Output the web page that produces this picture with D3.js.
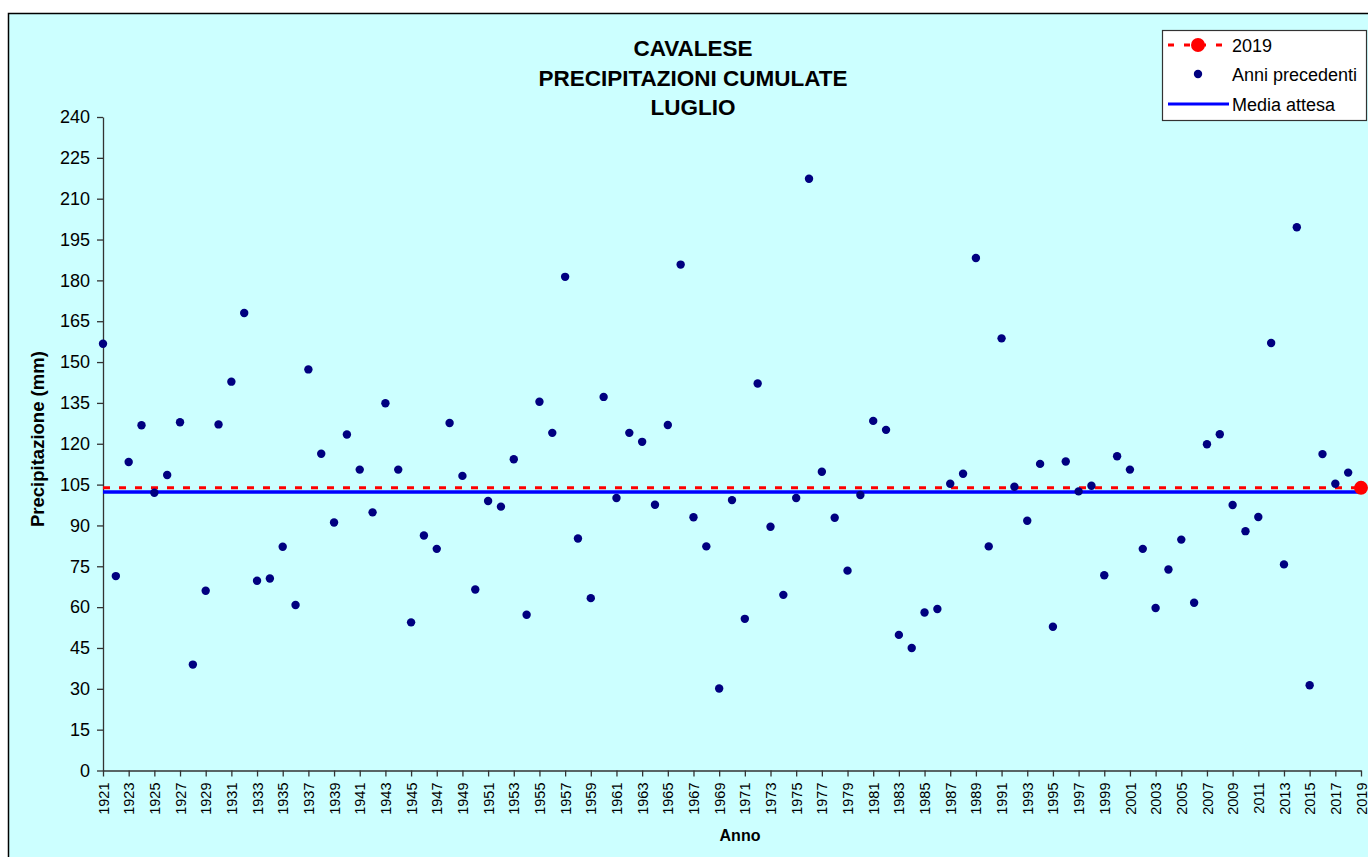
<!DOCTYPE html>
<html>
<head>
<meta charset="utf-8">
<script src="https://cdn.jsdelivr.net/npm/d3@7"></script>
<style>
  body { margin: 0; background: #fff; }
  text { font-family: "Liberation Sans", Arial, sans-serif; }
</style>
</head>
<body>
<div id="chart"></div>
<script>
// precipitazioni cumulate di luglio, Cavalese
const firstYear = 1921;
const pastValues = [
  156.7, 71.4, 113.3, 126.8, 102.0, 108.5, 127.9, 38.9, 66.0, 127.1,   // 1921-1930
  142.8, 168.0, 69.7, 70.5, 82.2, 60.8, 147.3, 116.3, 91.1, 123.4,      // 1931-1940
  110.5, 94.8, 134.9, 110.5, 54.4, 86.3, 81.4, 127.6, 108.2, 66.5,      // 1941-1950
  99.0, 96.9, 114.3, 57.2, 135.4, 124.0, 181.3, 85.2, 63.3, 137.2,      // 1951-1960
  100.1, 124.0, 120.7, 97.6, 126.9, 185.8, 93.0, 82.3, 30.1, 99.3,      // 1961-1970
  55.7, 142.1, 89.5, 64.5, 100.1, 217.3, 109.7, 92.8, 73.4, 101.2,      // 1971-1980
  128.4, 125.1, 49.8, 45.0, 58.0, 59.3, 105.3, 109.0, 188.2, 82.3,      // 1981-1990
  158.7, 104.2, 91.7, 112.6, 52.8, 113.5, 102.5, 104.6, 71.7, 115.4,    // 1991-2000
  110.5, 81.4, 59.7, 73.8, 84.8, 61.6, 119.8, 123.5, 97.5, 87.9,        // 2001-2010
  93.1, 157.0, 75.7, 199.5, 31.3, 116.2, 105.3, 109.4                   // 2011-2018
];
const currentYear = 2019;
const currentValue = 103.8;
const expectedMean = 102.3;
const yTicks = d3.range(0, 241, 15);
const xTicks = d3.range(1921, 2020, 2);
const titleLines = ["CAVALESE", "PRECIPITAZIONI CUMULATE", "LUGLIO"];
const legendLabels = ["2019", "Anni precedenti", "Media attesa"];

const past = pastValues.map((v, i) => ({ year: firstYear + i, value: v }));

const W = 1368, H = 857;
const svg = d3.select("#chart").append("svg")
  .attr("width", W).attr("height", H);

// cornice
svg.append("rect")
  .attr("x", 8.5).attr("y", 13.5)
  .attr("width", W + 20).attr("height", H + 20)
  .style("fill", "#CCFFFF")
  .style("stroke", "#000")
  .style("stroke-width", 1.5);

const x = d3.scaleLinear().domain([1921, 2019]).range([103, 1361]);
const y = d3.scaleLinear().domain([0, 240]).range([770.5, 117]);

// asse y
const yAxis = svg.append("g")
  .attr("transform", "translate(103,0)")
  .call(d3.axisLeft(y).tickValues(yTicks).tickSize(6).tickPadding(7).tickSizeOuter(0));
yAxis.selectAll("text").style("font-size", "18px").style("fill", "#000");
yAxis.selectAll("line, path").style("stroke", "#333").style("stroke-width", 1.3);

// asse x
const xAxis = svg.append("g")
  .attr("transform", "translate(0,770.5)")
  .call(d3.axisBottom(x).tickValues(xTicks).tickFormat(d3.format("d")).tickSize(6).tickSizeOuter(0));
xAxis.selectAll("line, path").style("stroke", "#333").style("stroke-width", 1.3);
xAxis.selectAll("text")
  .style("font-size", "14.5px")
  .style("fill", "#000")
  .attr("transform", "rotate(-90)")
  .attr("text-anchor", "end")
  .attr("x", -12)
  .attr("y", 0)
  .attr("dy", "0.35em");

// media attesa
svg.append("line")
  .attr("x1", x(1921)).attr("x2", x(2019))
  .attr("y1", y(expectedMean)).attr("y2", y(expectedMean))
  .style("stroke", "#0000FF")
  .style("stroke-width", 3.5);

// 2019 linea tratteggiata
svg.append("line")
  .attr("x1", x(1921)).attr("x2", x(2019))
  .attr("y1", y(currentValue)).attr("y2", y(currentValue))
  .style("stroke", "#FF0000")
  .style("stroke-width", 3)
  .style("stroke-dasharray", "7,9");

// anni precedenti
svg.selectAll(".past")
  .data(past)
  .enter()
  .append("circle")
  .attr("class", "past")
  .attr("cx", d => x(d.year))
  .attr("cy", d => y(d.value))
  .attr("r", 4.2)
  .style("fill", "#000080");

svg.append("circle")
  .attr("cx", x(currentYear))
  .attr("cy", y(currentValue))
  .attr("r", 7)
  .style("fill", "#FF0000");

// titolo
svg.append("text")
  .attr("x", 693)
  .attr("y", 56)
  .style("text-anchor", "middle")
  .style("font-size", "22.5px")
  .style("font-weight", "bold")
  .selectAll("tspan")
  .data(titleLines)
  .enter()
  .append("tspan")
  .attr("x", 693)
  .attr("dy", (d, i) => i === 0 ? 0 : 29.5)
  .text(d => d);

// etichette assi
svg.append("clipPath").attr("id", "ylab-clip")
  .append("rect").attr("x", 0).attr("y", 352).attr("width", 100).attr("height", 400);
svg.append("g")
  .attr("clip-path", "url(#ylab-clip)")
  .append("text")
  .attr("transform", "translate(44,527) rotate(-90)")
  .style("font-size", "18.5px")
  .style("font-weight", "bold")
  .text("Precipitazione (mm)");

svg.append("text")
  .attr("x", 740)
  .attr("y", 841)
  .style("text-anchor", "middle")
  .style("font-size", "16px")
  .style("font-weight", "bold")
  .text("Anno");

// legenda
const lg = svg.append("g");
lg.append("rect")
  .attr("x", 1162.5).attr("y", 30.5)
  .attr("width", 204).attr("height", 90)
  .style("fill", "#fff")
  .style("stroke", "#333")
  .style("stroke-width", 1.2);
const rowY = [45, 74, 104];
lg.append("line")
  .attr("x1", 1168).attr("x2", 1230).attr("y1", rowY[0]).attr("y2", rowY[0])
  .style("stroke", "#FF0000").style("stroke-width", 3).style("stroke-dasharray", "6,10");
lg.append("circle").attr("cx", 1198).attr("cy", rowY[0]).attr("r", 7).style("fill", "#FF0000");
lg.append("circle").attr("cx", 1198).attr("cy", rowY[1]).attr("r", 4.2).style("fill", "#000080");
lg.append("line")
  .attr("x1", 1168).attr("x2", 1229).attr("y1", rowY[2]).attr("y2", rowY[2])
  .style("stroke", "#0000FF").style("stroke-width", 3);
lg.selectAll(".lgtext")
  .data(legendLabels)
  .enter()
  .append("text")
  .attr("class", "lgtext")
  .attr("x", 1232)
  .attr("y", (d, i) => rowY[i] + 6.5)
  .style("font-size", "18px")
  .text(d => d);
</script>
</body>
</html>
